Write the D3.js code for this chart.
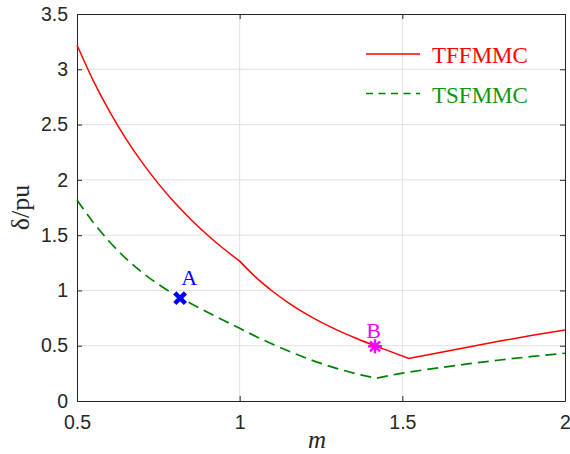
<!DOCTYPE html>
<html lang="en">
<head>
<meta charset="utf-8">
<title>delta vs m</title>
<script src="https://d3js.org/d3.v7.min.js"></script>
<style>
body { margin: 0; background: #fff; }
.tick text { font-family: "Liberation Sans", Arial, sans-serif; font-size: 19.5px; fill: #262626; }
</style>
</head>
<body>
<script>
// data
const xTicks = [0.5, 1, 1.5, 2];
const yTicks = [0, 0.5, 1, 1.5, 2, 2.5, 3, 3.5];

const tffM = [0.5,0.55,0.6,0.65,0.7,0.75,0.8,0.85,0.9,0.95,1.0,1.05,1.1,1.15,1.2,1.25,1.3,1.35,1.4,1.45,1.52,1.6,1.7,1.8,1.9,2.0];
const tffV = [3.22,2.898,2.619,2.373,2.158,1.966,1.795,1.642,1.504,1.379,1.265,1.118,0.995,0.888,0.795,0.713,0.641,0.577,0.518,0.462,0.385,0.43,0.487,0.542,0.594,0.643];
const tffBreaks = [1.0, 1.52];

const tsfM = [0.5,0.55,0.6,0.65,0.7,0.75,0.8,0.85,0.9,0.95,1.0,1.05,1.1,1.15,1.2,1.25,1.3,1.35,1.42,1.5,1.6,1.7,1.8,1.9,2.0];
const tsfV = [1.817,1.615,1.44,1.29,1.163,1.055,0.963,0.882,0.805,0.73,0.657,0.584,0.516,0.452,0.393,0.34,0.293,0.252,0.206,0.252,0.295,0.335,0.371,0.403,0.432];
const tsfBreaks = [1.42];

const pointNames = ["A", "B"];
const pointM = [0.817, 1.416];
const pointV = [0.93, 0.495];

const seriesNames = ["TFFMMC", "TSFMMC"];

// layout
const W = 570, H = 454;
const plotL = 77, plotR = 565, plotT = 14, plotB = 401;

const svg = d3.select("body").append("svg")
    .attr("width", W).attr("height", H)
    .style("font-family", "'Liberation Serif', 'Times New Roman', serif");

const x = d3.scaleLinear().domain([0.5, 2]).range([plotL, plotR]);
const y = d3.scaleLinear().domain([0, 3.5]).range([plotB, plotT]);

// grid
svg.append("g").selectAll("line").data(xTicks.slice(1, -1)).join("line")
    .attr("x1", d => x(d)).attr("x2", d => x(d))
    .attr("y1", plotT).attr("y2", plotB)
    .attr("stroke", "#e1e1e1").attr("stroke-width", 1);
svg.append("g").selectAll("line").data(yTicks.slice(1, -1)).join("line")
    .attr("y1", d => y(d)).attr("y2", d => y(d))
    .attr("x1", plotL).attr("x2", plotR)
    .attr("stroke", "#e1e1e1").attr("stroke-width", 1);

// axes (ticks pointing inward, box all round)
const axisColor = "#262626";
function styleAxis(g) {
    g.select(".domain").attr("stroke", axisColor);
    g.selectAll(".tick line").attr("stroke", axisColor);
}
svg.append("g")
    .attr("transform", "translate(0," + plotB + ")")
    .call(d3.axisBottom(x).tickValues(xTicks).tickFormat(d3.format("")).tickSizeInner(-5).tickSizeOuter(0).tickPadding(14))
    .call(styleAxis);
svg.append("g")
    .attr("transform", "translate(0," + plotT + ")")
    .call(d3.axisTop(x).tickValues(xTicks).tickFormat("").tickSizeInner(-5).tickSizeOuter(0))
    .call(styleAxis);
svg.append("g")
    .attr("transform", "translate(" + plotL + ",0)")
    .call(d3.axisLeft(y).tickValues(yTicks).tickFormat(d3.format("")).tickSizeInner(-5).tickSizeOuter(0).tickPadding(9))
    .call(styleAxis);
svg.append("g")
    .attr("transform", "translate(" + plotR + ",0)")
    .call(d3.axisRight(y).tickValues(yTicks).tickFormat("").tickSizeInner(-5).tickSizeOuter(0))
    .call(styleAxis);

// curves, split at the corners so the smoothing keeps them sharp
const line = d3.line().x(d => x(d[0])).y(d => y(d[1])).curve(d3.curveMonotoneX);
function pieces(ms, vs, breaks) {
    const pts = ms.map((m, i) => [m, vs[i]]);
    const out = [];
    let cur = [];
    pts.forEach(p => {
        cur.push(p);
        if (breaks.includes(p[0])) { out.push(cur); cur = [p]; }
    });
    out.push(cur);
    return out;
}
function fullPath(ms, vs, breaks) {
    return pieces(ms, vs, breaks).map((seg, i) => {
        const s = line(seg);
        return i === 0 ? s : s.replace(/^M[^A-Za-z]*/, "");
    }).join("");
}

svg.append("path")
    .attr("d", fullPath(tffM, tffV, tffBreaks))
    .attr("fill", "none").attr("stroke", "#ff0000").attr("stroke-width", 1.5);
svg.append("path")
    .attr("d", fullPath(tsfM, tsfV, tsfBreaks))
    .attr("fill", "none").attr("stroke", "#008000").attr("stroke-width", 1.7)
    .attr("stroke-dasharray", "11,6");

// marked points
const px = pointM.map(m => x(m)), py = pointV.map(v => y(v));
const a = 5.3;
svg.append("path")
    .attr("d", `M${px[0]-a},${py[0]-a}L${px[0]+a},${py[0]+a}M${px[0]-a},${py[0]+a}L${px[0]+a},${py[0]-a}`)
    .attr("stroke", "#0000ff").attr("stroke-width", 4.5).attr("stroke-linecap", "butt");
const r = 7, rd = 5;
svg.append("path")
    .attr("d", `M${px[1]-r},${py[1]}L${px[1]+r},${py[1]}M${px[1]},${py[1]-r}L${px[1]},${py[1]+r}` +
               `M${px[1]-rd},${py[1]-rd}L${px[1]+rd},${py[1]+rd}M${px[1]-rd},${py[1]+rd}L${px[1]+rd},${py[1]-rd}`)
    .attr("stroke", "#ff00ff").attr("stroke-width", 2.5);
svg.append("text").attr("x", px[0] + 9).attr("y", py[0] - 13)
    .attr("text-anchor", "middle").attr("font-size", 22).attr("fill", "#0000ff").text(pointNames[0]);
svg.append("text").attr("x", px[1] - 1.5).attr("y", py[1] - 8)
    .attr("text-anchor", "middle").attr("font-size", 22).attr("fill", "#ff00ff").text(pointNames[1]);

// legend
const legend = svg.append("g");
legend.append("line").attr("x1", 366).attr("x2", 420).attr("y1", 54).attr("y2", 54)
    .attr("stroke", "#ff0000").attr("stroke-width", 1.5);
legend.append("line").attr("x1", 366).attr("x2", 420).attr("y1", 93.5).attr("y2", 93.5)
    .attr("stroke", "#008000").attr("stroke-width", 1.7).attr("stroke-dasharray", "7,5.5");
legend.append("text").attr("x", 432).attr("y", 63).attr("font-size", 23)
    .attr("fill", "#ff0000").text(seriesNames[0]);
legend.append("text").attr("x", 432).attr("y", 103).attr("font-size", 23)
    .attr("fill", "#0f960f").text(seriesNames[1]);

// axis labels
svg.append("text").attr("x", 317).attr("y", 448).attr("text-anchor", "middle")
    .attr("font-size", 25).attr("font-style", "italic").attr("fill", "#262626").text("m");
svg.append("text")
    .attr("transform", "translate(29," + ((plotT + plotB) / 2) + ") rotate(-90)")
    .attr("text-anchor", "middle").attr("font-size", 26).attr("fill", "#262626").text("δ/pu");
</script>
</body>
</html>
